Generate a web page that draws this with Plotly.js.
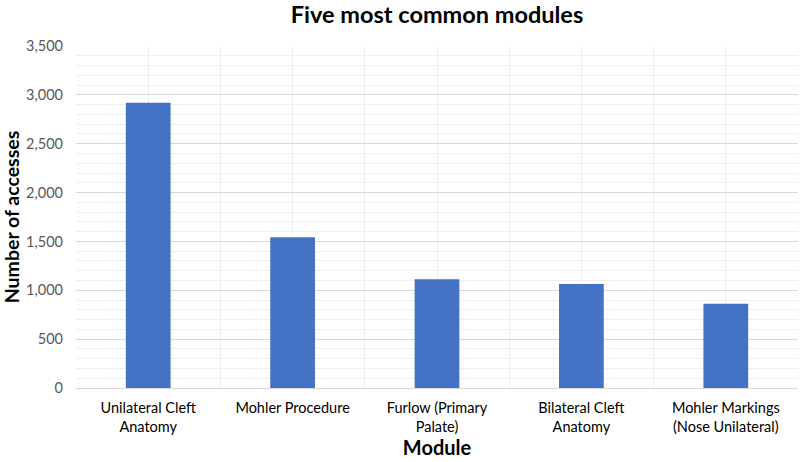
<!DOCTYPE html>
<html>
<head>
<meta charset="utf-8">
<script src="https://cdn.plot.ly/plotly-3.0.1.min.js"></script>
<style>
  html, body { margin: 0; padding: 0; background: #fff; }
  #chart { width: 800px; height: 462px; }
</style>
</head>
<body>
<div id="chart"></div>
<script>
// Five most common modules, bar chart
const modules = [
  "Unilateral Cleft<br>Anatomy",
  "Mohler Procedure",
  "Furlow (Primary<br>Palate)",
  "Bilateral Cleft<br>Anatomy",
  "Mohler Markings<br>(Nose Unilateral)",
];
const accesses = [2920, 1542, 1112, 1064, 863];

const COLORS = {
  bar:   "#4472C4",
  major: "#d9d9d9",
  minor: "#efefef",
  tick:  "#595959",
  title: "#000000",
};
const FONT = "Lato, 'Open Sans', sans-serif";

const positions = modules.map((_, i) => i);

const trace = {
  x: positions, y: accesses, type: "bar", width: 0.31,
  marker: { color: COLORS.bar },
  hoverinfo: "y",
};

const layout = {
  width: 800, height: 462,
  paper_bgcolor: "#fff", plot_bgcolor: "#fff",
  font: { family: FONT, color: COLORS.tick, size: 14 },
  margin: { t: 46, r: 2, b: 74, l: 76 },
  showlegend: false,
  title: {
    text: "<b>Five most common modules</b>",
    font: { size: 23.5, color: COLORS.title, family: FONT },
    x: 0.5, xref: "paper", xanchor: "center", y: 0.968, yref: "container", yanchor: "middle",
  },
  xaxis: {
    range: [-0.5, modules.length - 0.5],
    tickvals: positions, ticktext: modules,
    ticks: "", ticklabelstandoff: 7,
    showline: true, linecolor: COLORS.major, linewidth: 1,
    showgrid: true, gridcolor: COLORS.minor,
    minor: { dtick: 0.5, tick0: -0.5, showgrid: true, gridcolor: COLORS.minor, ticks: "" },
    tickfont: { size: 14.5, color: COLORS.title },
    title: { text: "<b>Module</b>", font: { size: 20, color: COLORS.title }, standoff: 2 },
    fixedrange: true,
  },
  yaxis: {
    range: [0, 3500], dtick: 500, tickformat: ",",
    ticks: "", ticklabelstandoff: 12,
    showgrid: true, gridcolor: COLORS.major, zeroline: true, zerolinecolor: COLORS.major,
    minor: { dtick: 100, showgrid: true, gridcolor: COLORS.minor, ticks: "" },
    tickfont: { size: 14.5, color: COLORS.tick },
    title: { text: "<b>Number of accesses</b>", font: { size: 19.5, color: COLORS.title }, standoff: 2 },
    fixedrange: true,
  },
};

Plotly.newPlot("chart", [trace], layout, { displayModeBar: false, staticPlot: true });
</script>
</body>
</html>
